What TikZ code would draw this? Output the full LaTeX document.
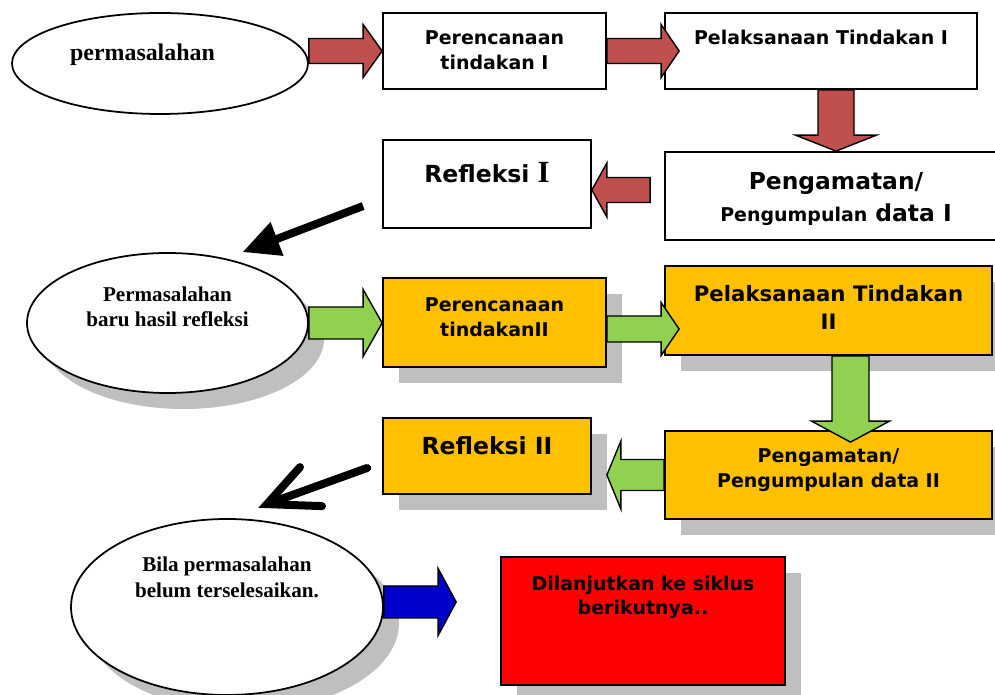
\documentclass[tikz,border=0pt]{standalone}
\usepackage{fontspec}
\setmainfont{Liberation Serif}
\setsansfont{DejaVu Sans}
\usetikzlibrary{calc,shadows,arrows.meta,shapes.geometric}

\definecolor{oranye}{HTML}{FFC000}
\definecolor{merahbata}{HTML}{C0504D}
\definecolor{hijau}{HTML}{92D050}
\definecolor{biru}{HTML}{0000CC}
\definecolor{abu}{HTML}{BFBFBF}

\newlength\pks
\setlength\pks{0.02cm}
% isi kotak: lebar, tinggi, jarak baris pertama, teks
\newcommand\isi[4]{\parbox[c][#2\pks][t]{#1\pks}{\centering\rule{0pt}{#3\pks}#4}}

\begin{document}
\begin{tikzpicture}[
x=0.02cm, y=-0.02cm,
line width=1pt,
kotak/.style={%
    rectangle, draw=black, inner sep=0pt, fill=white,
},
oranye/.style={%
    kotak, fill=oranye,
},
elips/.style={%
    ellipse, draw=black, inner sep=0pt, fill=white,
},
bayang/.style={%
    drop shadow={shadow xshift=0.32cm, shadow yshift=-0.32cm, fill=abu, opacity=1},
},
hurufA/.style={font=\fontsize{10.8}{14.2}\selectfont\sffamily\bfseries},
hurufB/.style={font=\fontsize{12.1}{15.9}\selectfont\sffamily\bfseries},
hurufC/.style={font=\fontsize{13.3}{18.1}\selectfont\sffamily\bfseries},
serif/.style={font=\fontsize{12}{14.2}\selectfont\rmfamily\bfseries},
blok/.style args={#1/#2/#3}{to path={
    ($(\tikztotarget)!#3*0.02cm!(\tikztostart)$) coordinate (hb)
    ($(\tikztostart)!#1*0.02cm!90:(\tikztotarget)$)
    -- ($(hb)!#1*0.02cm!90:(\tikztotarget)$)
    -- ($(hb)!#2*0.02cm!90:(\tikztotarget)$)
    -- (\tikztotarget)
    -- ($(hb)!#2*0.02cm!-90:(\tikztotarget)$)
    -- ($(hb)!#1*0.02cm!-90:(\tikztotarget)$)
    -- ($(\tikztostart)!#1*0.02cm!-90:(\tikztotarget)$)
    -- cycle}},
panahmerah/.style={draw=black, line width=0.8pt, fill=merahbata},
panahhijau/.style={draw=black, line width=0.8pt, fill=hijau},
panahbiru/.style={draw=black, line width=0.8pt, fill=biru},
tebal/.style={draw=black, line width=0.16cm},
]
\clip (0,0) rectangle (995,695);

% Siklus I
\node[elips, minimum width=296\pks, minimum height=101\pks,
      font=\fontsize{13.6}{16}\selectfont\rmfamily\bfseries]
      (mas1) at (160,63.5) {\isi{180}{40}{17.5}{permasalahan\hspace*{35\pks}}};
\node[kotak, hurufA] (ren1) at (494.5,51)  {\isi{223}{76}{32}{Perencanaan\\tindakan I}};
\node[kotak, hurufA] (pel1) at (821,51)    {\isi{312}{76}{32}{Pelaksanaan Tindakan I}};
\node[kotak, hurufC] (pgm1) at (836,196)   {\isi{342}{88}{38}{Pengamatan/\\{\fontsize{10.8}{14.2}\selectfont Pengumpulan} data I}};
\node[kotak, font=\fontsize{13.4}{16}\selectfont\sffamily\bfseries]
      (ref1) at (487,184) {\isi{208}{88}{43}{Refleksi {\rmfamily\fontsize{17.5}{17}\selectfont I}}};

% Siklus II
\node[elips, bayang, serif, minimum width=281\pks, minimum height=140\pks]
      (mas2) at (167.5,323) {\isi{180}{80}{18.7}{Permasalahan\\baru hasil refleksi}};
\node[oranye, bayang, hurufA] (ren2) at (494.5,322.5) {\isi{223}{89}{33.7}{Perencanaan\\tindakanII}};
\node[oranye, bayang, hurufB] (pel2) at (828.5,310.5) {\isi{327}{89}{35.7}{Pelaksanaan Tindakan\\II}};
\node[oranye, bayang, hurufA] (pgm2) at (828.5,475)   {\isi{327}{88}{32}{Pengamatan/\\Pengumpulan data II}};
\node[oranye, bayang, font=\fontsize{13.4}{16}\selectfont\sffamily\bfseries]
      (ref2) at (487,456) {\isi{208}{76}{37}{Refleksi II}};

% Lanjut
\node[elips, bayang, font=\fontsize{12}{14.7}\selectfont\rmfamily\bfseries,
      minimum width=312\pks, minimum height=176\pks]
      (mas3) at (227,607) {\isi{200}{110}{20}{Bila permasalahan\\belum terselesaikan.}};
\node[kotak, bayang, fill=red, font=\fontsize{10.8}{13.6}\selectfont\sffamily\bfseries]
      (lanjut) at (643,621) {\isi{284}{128}{34}{Dilanjutkan ke siklus\\berikutnya..}};

% Panah blok
\draw[panahmerah] (mas1.east |- ren1.west) to[blok=12.5/26.5/19] (ren1.west);
\draw[panahmerah] (ren1.east) to[blok=12.5/26.5/18] ($(pel1.west)+(15,0)$);
\draw[panahmerah] (pel1.south -| pgm1.north) to[blok=18/40.5/16] (pgm1.north);
\draw[panahmerah] ($(pgm1.west)+(-14,-6)$) to[blok=12.5/27/15] ($(ref1.east)+(0,6)$);

\coordinate (g2a) at ($(ren2.east)+(0,6.5)$);
\draw[panahhijau] (mas2.east) to[blok=16/33.5/19] (ren2.west |- mas2.east);
\draw[panahhijau] (g2a) to[blok=13/26.5/18] ($(g2a -| pel2.west)+(15,0)$);
\draw[panahhijau] ($(pel2.south)+(22,0)$) to[blok=18.5/39/21] ($(pgm2.north)+(22,12)$);
\draw[panahhijau] (pgm2.west) to[blok=15.5/34/14] ($(ref2.east |- pgm2.west)+(15,0)$);

\draw[panahbiru] ($(mas3.east)+(0,-5)$) to[blok=16/33.5/18] ($(lanjut.west)+(-44,-19)$);

% Panah hitam
\coordinate (k1a) at ($(ref1.west)+(-19,22)$);
\coordinate (k1b) at ($(mas2.north)+(75,0)$);
\coordinate (k2a) at ($(ref2.west)+(-15,12)$);
\coordinate (k2b) at ($(mas3.north)+(40,-14)$);
\draw[tebal, -{Triangle[length=0.74cm, width=0.68cm]}] (k1a) -- (k1b);
\draw[tebal, line cap=round] (k2a) -- (k2b);
\draw[tebal, line cap=round, line join=miter]
      ($(k2b)+(33,-37)$) -- (k2b) -- ($(k2b)+(55,2)$);
\end{tikzpicture}
\end{document}
